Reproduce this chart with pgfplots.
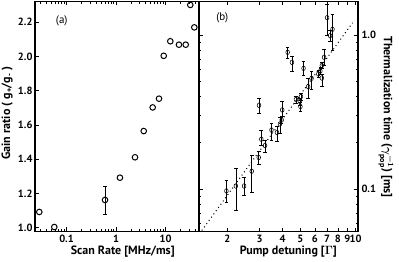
\documentclass[border=0pt]{standalone}
\usepackage{fontspec}
\setmainfont{PT Sans}
\usepackage{pgfplots}
\pgfplotsset{compat=1.18}
\usepackage{pgfplotstable}

\pgfplotstableread{
x y
0.0282 1.092
0.0567 1.004
1.20 1.292
2.42 1.411
3.63 1.564
5.51 1.702
7.39 1.753
9.2 2.003
12.5 2.088
18.7 2.068
25.6 2.068
31.7 2.300
38.2 2.169
}\dataA

\pgfplotstableread{
x y ep em
0.60 1.162 0.081 0.084
}\dataAerr

\pgfplotstableread{
x y ep em
1.975 0.0975 0.0165 0.0156
2.222 0.105 0.032 0.0321
2.465 0.105 0.014 0.0138
2.714 0.1308 0.0348 0.0354
2.963 0.1607 0.0163 0.0148
3.06 0.211 0.029 0.017
3.205 0.192 0.0168 0.0175
2.974 0.350 0.039 0.039
3.477 0.242 0.026 0.0332
3.725 0.2334 0.0211 0.0299
3.868 0.265 0.029 0.0333
3.952 0.281 0.012 0.012
3.98 0.3266 0.0469 0.0311
4.26 0.7726 0.0544 0.0666
4.495 0.665 0.0584 0.081
4.726 0.382 0.02 0.02
5.03 0.3995 0.02 0.02
4.967 0.371 0.02 0.02
4.998 0.344 0.02 0.022
5.20 0.608 0.063 0.0575
5.51 0.4624 0.0616 0.0734
5.75 0.524 0.060 0.0773
6.26 0.559 0.03 0.03
6.42 0.584 0.03 0.03
6.54 0.634 0.03 0.03
6.54 0.526 0.03 0.064
6.73 0.717 0.094 0.078
6.99 1.295 0.277 0.295
7.26 0.99 0.08 0.08
7.48 1.089 0.279 0.29
}\dataB

\pgfplotsset{
  common/.style={
    scale only axis, height=230pt,
    axis line style={line width=1.1pt},
    tick align=inside,
    major tick length=4pt, minor tick length=2.5pt,
    every tick/.style={black, line width=0.7pt},
    tick label style={font=\bfseries\fontsize{10.5}{10.5}\selectfont},
    label style={font=\bfseries\fontsize{12}{14}\selectfont},
    /pgf/number format/assume math mode=true,
    clip=false,
  }
}

\begin{document}
\begin{tikzpicture}
\useasboundingbox (0,0) rectangle (399pt,262pt);
% Panel (a)
\begin{axis}[common,
  at={(35pt,30.5pt)}, anchor=south west, width=164pt,
  xmode=log, xmin=0.0231, xmax=47.5, ymin=0.978, ymax=2.32,
  xtick={0.1,1,10}, xticklabels={0.1,1,10},
  minor xtick={0.03,0.04,0.05,0.06,0.07,0.08,0.09,0.2,0.3,0.4,0.5,0.6,0.7,0.8,0.9,2,3,4,5,6,7,8,9,20,30,40},
  ytick={1,1.2,1.4,1.6,1.8,2.0,2.2}, yticklabels={1.0,1.2,1.4,1.6,1.8,2.0,2.2},
  ytick pos=left, xtick pos=both, xticklabel pos=bottom,
  yticklabel style={xshift=1pt},
  xlabel={Scan Rate [MHz/ms]},
  ylabel={Gain ratio ( g\textsubscript{+}/g\textsubscript{-} )},
  xlabel style={at={(axis description cs:0.535,-0.088)}, anchor=center},
  ylabel style={at={(axis description cs:-0.17,0.515)}, anchor=center},
]
\addplot[only marks, mark=o, mark size=2.8pt, mark options={line width=1pt, fill=white}] table[x=x,y=y] {\dataA};
\addplot[draw=none, mark=none,
  error bars/.cd, y dir=both, y explicit,
  error bar style={line width=0.7pt, solid},
  error mark options={rotate=90, mark size=2pt, line width=0.7pt}]
  table[x=x,y=y,y error plus=ep,y error minus=em] {\dataAerr};
\addplot[only marks, mark=o, mark size=2.8pt, mark options={line width=1pt, fill=white}] table[x=x,y=y] {\dataAerr};
\node[font=\fontsize{11}{12}\selectfont] at (rel axis cs:0.163,0.9165) {(a)};
\end{axis}
% Panel (b)
\begin{axis}[common,
  at={(199pt,30.5pt)}, anchor=south west, width=159pt,
  xmode=log, ymode=log, xmin=1.40, xmax=10.3, ymin=0.0532, ymax=1.649,
  xtick={2,3,4,5,6,7,8,9,10}, xticklabels={2,3,4,5,6,7,8,9,10},
  minor xtick={},
  ytick={0.1,1}, yticklabels={0.1,1.0},
  minor ytick={0.06,0.07,0.08,0.09,0.2,0.3,0.4,0.5,0.6,0.7,0.8,0.9},
  xtick pos=both, xticklabel pos=bottom,
  ytick pos=both, yticklabel pos=right,
  xlabel={Pump detuning [{\boldmath$\Gamma$}]},
  ylabel={Thermalization time ({\boldmath$\gamma^{-1}_{\mathrm{pop}}$}) [ms]},
  xlabel style={at={(axis description cs:0.562,-0.088)}, anchor=center},
  ylabel style={at={(axis description cs:1.176,0.498)}, anchor=center, rotate=180},
]
\addplot[black, line width=1pt, dash pattern=on 1pt off 3pt] coordinates {(1.45,0.054) (9.62,1.20)};
\addplot[draw=none, mark=none,
  error bars/.cd, y dir=both, y explicit,
  error bar style={line width=0.6pt, solid},
  error mark options={rotate=90, mark size=1.8pt, line width=0.6pt}]
  table[x=x,y=y,y error plus=ep,y error minus=em] {\dataB};
\addplot[only marks, mark=o, mark size=2.3pt, mark options={xscale=0.8, line width=0.55pt, fill=white}]
  table[x=x,y=y] {\dataB};
\node[font=\fontsize{11}{12}\selectfont] at (rel axis cs:0.1465,0.931) {(b)};
\end{axis}
\end{tikzpicture}
\end{document}
